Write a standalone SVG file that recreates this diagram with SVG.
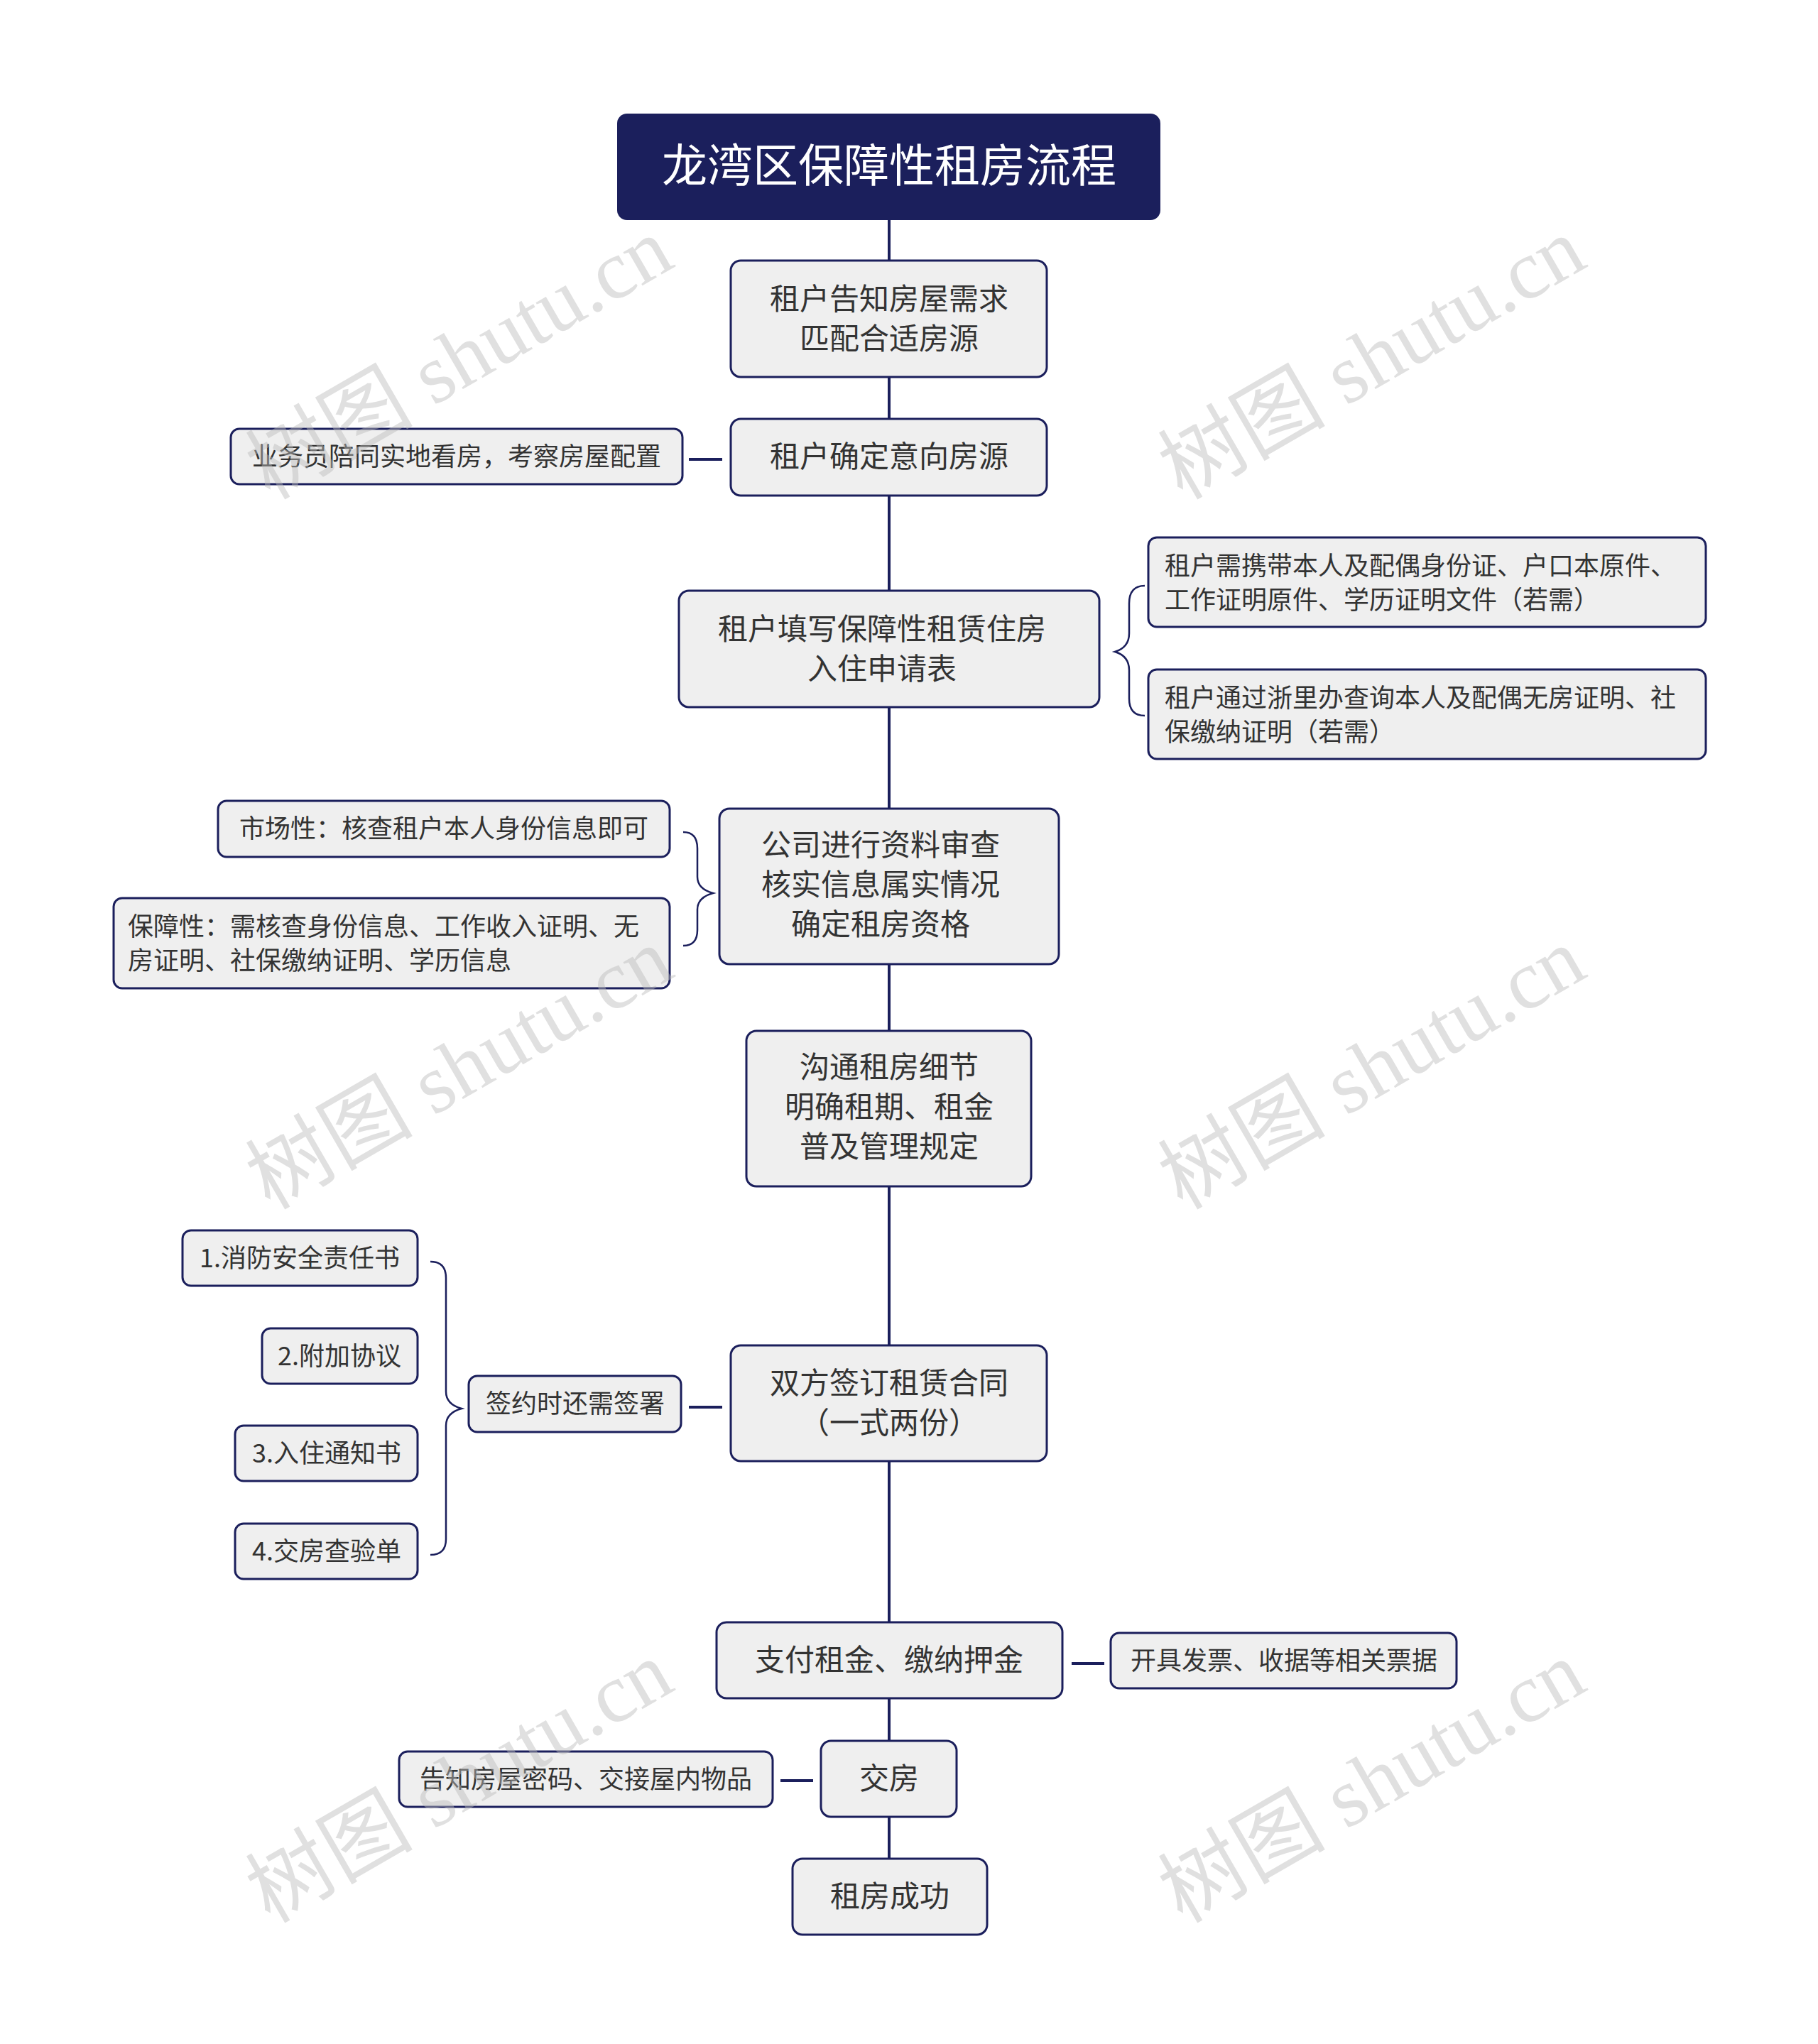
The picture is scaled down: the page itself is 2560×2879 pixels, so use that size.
<svg xmlns="http://www.w3.org/2000/svg" width="2560" height="2879" viewBox="0 0 2560 2879">
<style>
.n{fill:#efefef;stroke:#1b1f5c;stroke-width:3}
.t{font-family:"Noto Sans CJK SC","Noto Sans",sans-serif;fill:#333;text-anchor:middle}
.m{font-size:42px}
.s{font-size:36px}
.c{fill:none;stroke:#1b1f5c;stroke-width:4}
.w{font-family:"Liberation Serif","Noto Sans CJK SC",serif;font-size:118px;fill:#bbb;opacity:0.45}
</style>
<rect width="2560" height="2879" fill="#fff"/>
<g id="connectors">
<line class="c" x1="1252" y1="310" x2="1252" y2="2618"/>
<line class="c" x1="970" y1="647" x2="1017" y2="647"/>
<line class="c" x1="1509" y1="2343" x2="1555" y2="2343"/>
<line class="c" x1="1099" y1="2508" x2="1145" y2="2508"/>
<line class="c" x1="970" y1="1982" x2="1017" y2="1982"/>
<path class="c" style="stroke-width:2.5" d="M1612,825 Q1590,825 1590,850 L1590,892 Q1590,912 1570,918 Q1590,924 1590,944 L1590,984 Q1590,1008 1612,1008"/>
<path class="c" style="stroke-width:2.5" d="M962,1172 Q982,1172 982,1195 L982,1235 Q982,1252 1004,1258 Q982,1264 982,1281 L982,1310 Q982,1332 962,1332"/>
<path class="c" style="stroke-width:2.5" d="M606,1777 Q628,1777 628,1800 L628,1960 Q628,1978 650,1984 Q628,1990 628,2008 L628,2168 Q628,2190 606,2190"/>
</g>
<g id="title"><rect x="869" y="160" width="765" height="150" rx="14" fill="#1b1f5c"/><text x="1252" y="256" font-family="Noto Sans CJK SC,sans-serif" font-size="64" fill="#fff" text-anchor="middle">龙湾区保障性租房流程</text></g>
<g id="n1"><rect class="n" x="1029" y="367" width="445" height="164" rx="14"/><text class="t m" x="1252" y="436">租户告知房屋需求</text><text class="t m" x="1252" y="492">匹配合适房源</text></g>
<g id="n2"><rect class="n" x="1029" y="590" width="445" height="108" rx="14"/><text class="t m" x="1252" y="658">租户确定意向房源</text></g>
<g id="l2"><rect class="n" x="325" y="604" width="636" height="78" rx="12"/><text class="t s" x="643" y="656">业务员陪同实地看房，考察房屋配置</text></g>
<g id="n3"><rect class="n" x="956" y="832" width="592" height="164" rx="14"/><text class="t m" x="1242" y="901">租户填写保障性租赁住房</text><text class="t m" x="1242" y="957">入住申请表</text></g>
<g id="r3a"><rect class="n" x="1617" y="757" width="785" height="126" rx="12"/><text class="t s" x="1640" y="810" style="text-anchor:start">租户需携带本人及配偶身份证、户口本原件、</text><text class="t s" x="1640" y="858" style="text-anchor:start">工作证明原件、学历证明文件（若需）</text></g>
<g id="r3b"><rect class="n" x="1617" y="943" width="785" height="126" rx="12"/><text class="t s" x="1640" y="996" style="text-anchor:start">租户通过浙里办查询本人及配偶无房证明、社</text><text class="t s" x="1640" y="1044" style="text-anchor:start">保缴纳证明（若需）</text></g>
<g id="n4"><rect class="n" x="1013" y="1139" width="478" height="219" rx="14"/><text class="t m" x="1240" y="1205">公司进行资料审查</text><text class="t m" x="1240" y="1261">核实信息属实情况</text><text class="t m" x="1240" y="1317">确定租房资格</text></g>
<g id="l4a"><rect class="n" x="307" y="1128" width="636" height="79" rx="12"/><text class="t s" x="625" y="1180">市场性：核查租户本人身份信息即可</text></g>
<g id="l4b"><rect class="n" x="160" y="1265" width="783" height="127" rx="12"/><text class="t s" x="180" y="1318" style="text-anchor:start">保障性：需核查身份信息、工作收入证明、无</text><text class="t s" x="180" y="1366" style="text-anchor:start">房证明、社保缴纳证明、学历信息</text></g>
<g id="n5"><rect class="n" x="1051" y="1452" width="401" height="219" rx="14"/><text class="t m" x="1252" y="1518">沟通租房细节</text><text class="t m" x="1252" y="1574">明确租期、租金</text><text class="t m" x="1252" y="1630">普及管理规定</text></g>
<g id="n6"><rect class="n" x="1029" y="1895" width="445" height="163" rx="14"/><text class="t m" x="1252" y="1963">双方签订租赁合同</text><text class="t m" x="1252" y="2019">（一式两份）</text></g>
<g id="l6"><rect class="n" x="660" y="1938" width="299" height="79" rx="12"/><text class="t s" x="810" y="1990">签约时还需签署</text></g>
<g id="l6a"><rect class="n" x="257" y="1733" width="331" height="78" rx="12"/><text class="t s" x="422" y="1785">1.消防安全责任书</text></g>
<g id="l6b"><rect class="n" x="369" y="1871" width="219" height="78" rx="12"/><text class="t s" x="478" y="1923">2.附加协议</text></g>
<g id="l6c"><rect class="n" x="331" y="2008" width="257" height="78" rx="12"/><text class="t s" x="460" y="2060">3.入住通知书</text></g>
<g id="l6d"><rect class="n" x="331" y="2146" width="257" height="78" rx="12"/><text class="t s" x="460" y="2198">4.交房查验单</text></g>
<g id="n7"><rect class="n" x="1009" y="2285" width="487" height="107" rx="14"/><text class="t m" x="1252" y="2353">支付租金、缴纳押金</text></g>
<g id="r7"><rect class="n" x="1564" y="2300" width="487" height="78" rx="12"/><text class="t s" x="1808" y="2352">开具发票、收据等相关票据</text></g>
<g id="n8"><rect class="n" x="1156" y="2452" width="191" height="107" rx="14"/><text class="t m" x="1252" y="2520">交房</text></g>
<g id="l8"><rect class="n" x="562" y="2467" width="526" height="78" rx="12"/><text class="t s" x="825" y="2519">告知房屋密码、交接屋内物品</text></g>
<g id="n9"><rect class="n" x="1116" y="2618" width="274" height="107" rx="14"/><text class="t m" x="1253" y="2686">租房成功</text></g>
<g id="watermarks">
<text class="w" transform="translate(380,705) rotate(-30)">树图 shutu.cn</text>
<text class="w" transform="translate(1665,705) rotate(-30)">树图 shutu.cn</text>
<text class="w" transform="translate(380,1705) rotate(-30)">树图 shutu.cn</text>
<text class="w" transform="translate(1665,1705) rotate(-30)">树图 shutu.cn</text>
<text class="w" transform="translate(380,2710) rotate(-30)">树图 shutu.cn</text>
<text class="w" transform="translate(1665,2710) rotate(-30)">树图 shutu.cn</text>
</g>
</svg>
